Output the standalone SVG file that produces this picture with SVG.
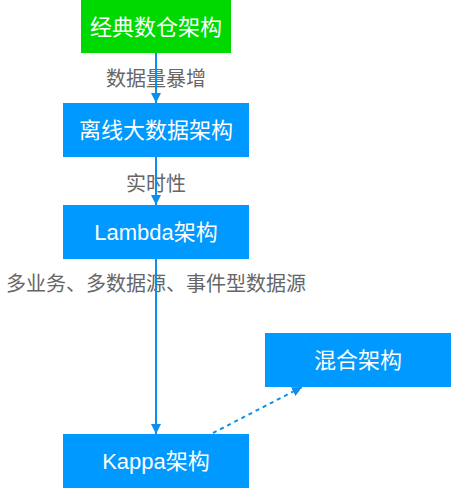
<svg xmlns="http://www.w3.org/2000/svg" width="452" height="489" viewBox="0 0 452 489">
<style>
.box{fill:#0099ff}
.green{fill:#00d900}
.bt{font-family:"Liberation Sans","Noto Sans CJK SC",sans-serif;font-size:22px;fill:#ffffff;text-anchor:middle;dominant-baseline:central}
.lt{font-family:"Liberation Sans","Noto Sans CJK SC",sans-serif;font-size:20px;fill:#666666;text-anchor:middle;dominant-baseline:central}
.ln{stroke:#0a8fef;stroke-width:2;fill:none}
</style>
<defs>
<marker id="ah" viewBox="0 0 10 10" refX="10" refY="5" markerWidth="5" markerHeight="5" orient="auto" markerUnits="strokeWidth">
<path d="M0,0 L10,5 L0,10 z" fill="#0a8fef"/>
</marker>
</defs>
<rect width="452" height="489" fill="#ffffff"/>
<g id="label-1"><text class="lt" x="156" y="79">数据量暴增</text></g>
<g id="label-2"><text class="lt" x="156" y="184">实时性</text></g>
<g id="label-3"><text class="lt" x="156" y="284">多业务、多数据源、事件型数据源</text></g>
<g id="connectors">
<line class="ln" x1="156" y1="53" x2="156" y2="103" marker-end="url(#ah)"/>
<line class="ln" x1="156" y1="157" x2="156" y2="205" marker-end="url(#ah)"/>
<line class="ln" x1="156" y1="259" x2="156" y2="434" marker-end="url(#ah)"/>
<line class="ln" x1="213" y1="433" x2="302" y2="387" stroke-dasharray="4 4" marker-end="url(#ah)"/>
</g>
<g id="node-classic"><rect class="green" x="81" y="0" width="150" height="53"/><text class="bt" x="156" y="27">经典数仓架构</text></g>
<g id="node-offline"><rect class="box" x="63" y="103" width="186" height="54"/><text class="bt" x="156" y="130">离线大数据架构</text></g>
<g id="node-lambda"><rect class="box" x="63" y="205" width="186" height="54"/><text class="bt" x="156" y="232">Lambda架构</text></g>
<g id="node-kappa"><rect class="box" x="63" y="434" width="186" height="54"/><text class="bt" x="156" y="461">Kappa架构</text></g>
<g id="node-hybrid"><rect class="box" x="265" y="333" width="186" height="54"/><text class="bt" x="358" y="360">混合架构</text></g>
</svg>
